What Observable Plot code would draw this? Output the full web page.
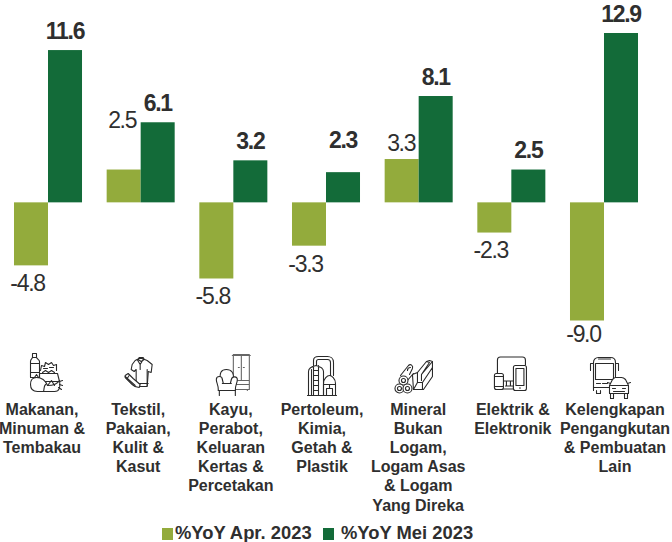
<!DOCTYPE html>
<html><head><meta charset="utf-8">
<script src="https://cdn.jsdelivr.net/npm/d3@7"></script>
<script src="https://cdn.jsdelivr.net/npm/@observablehq/plot@0.6"></script>
<style>
html,body{margin:0;padding:0;background:#fff;overflow:hidden}
#legend{position:relative;height:20px;font:bold 18.400px "Liberation Sans",Arial,sans-serif;color:#2f2f2f;line-height:18px;white-space:nowrap}
#legend i{position:absolute;top:6px;width:10.500px;height:11.500px}
#legend span{position:absolute;top:2px}
.val text{letter-spacing:-1.300px}
</style></head><body>
<div id="chart"></div>
<div id="legend"></div>
<script>
const categories = [
  "Makanan,\nMinuman &\nTembakau",
  "Tekstil,\nPakaian,\nKulit &\nKasut",
  "Kayu,\nPerabot,\nKeluaran\nKertas &\nPercetakan",
  "Pertoleum,\nKimia,\nGetah &\nPlastik",
  "Mineral\nBukan\nLogam,\nLogam Asas\n& Logam\nYang Direka",
  "Elektrik &\nElektronik",
  "Kelengkapan\nPengangkutan\n& Pembuatan\nLain"
];
const seriesNames = ["%YoY Apr. 2023", "%YoY Mei 2023"];
const apr2023 = [-4.8, 2.5, -5.8, -3.3, 3.3, -2.3, -9.0];
const mei2023 = [11.6, 6.1, 3.2, 2.3, 8.1, 2.5, 12.9];
const seriesColors = ["#93AB3C", "#136B39"];

const iconArt = [
  // food and drink
  `<path d="M9 5h4v4H9zM9 9c-1 2-2 2-2 4v16h9V13c0-2-2-2-3-4M7 15h9M7 24h9"/>
   <path d="M17 22l1-5 3 1 1-4 3 2 3-2 2 3 3-1v6M20 20h4M26 19h4M19 24l3-2 3 2 3-2 3 2"/>
   <path d="M16 25h18l2 8H16z"/>
   <path fill="#fff" d="M13 29c-4 0-6 3-6 7 0 5 3 7 7 7h17c5 0 6-4 5-11-3 5-9 5-12 5-2-5-6-8-11-8z"/>
   <path d="M11 29l2-3 2 3M24 37l4-5 3 5M36 33l3-1M36 36l3 1M35 39l3 2M20 43c1-3 0-5 2-7"/>`,
  // clothing
  `<path d="M18 11l4-2h3l5 2 5 4-1 8-3-1v2l-1 13H19V20l-2 2-3-2 1-5z"/>
   <path d="M20 10l3 5 3-5M23 15v5M22 8h4l1 2-3 2-3-2zM19 34h12M30 20v16"/>
   <path fill="#fff" d="M11 24l5 5 7 6-1 3c-3 0-5-1-7-3l-7-7v-2z"/><path d="M8 27l10 9M12 26l-2 3"/>`,
  // furniture
  `<path stroke="#666" d="M22 3h16v35H22zM21 4h18M30 3v26M22 29h16M22 33h16M27 16h1M32 16h1M24 38v1M36 38v1"/>
   <path fill="#fff" d="M9 29c-1-8 1-11 6-11s8 3 7 11"/>
   <path fill="#fff" d="M5 28c0-4 6-4 6 0l1 4h7l1-4c1-4 6-3 6 0 0 4-2 4-2 11H7c0-7-2-7-2-11z"/>
   <path d="M11 32h9M8 39v5M24 39v5M7 39h17"/>`,
  // petroleum and chemical
  `<path d="M7 44h29"/>
   <path d="M8 44V20c0-3 3-5 7.500-6 4 1 7.500 3 7.500 6v24M11 18v26M13 14v30M18 14v30M13 19h5M13 24h5M13 29h5M13 34h5M13 39h5"/>
   <path d="M13 14V9c0-3 3-4 5-4h9c3 0 6 2 6 6v13M16 14V10c0-1 1-2 2-2h9c2 0 3 1 3 3v13"/>
   <path d="M23 44V32c0-5 4-8 6-8s6 3 6 8v12M23 33h12M26 44v-7h6v7M29 33v4"/>`,
  // minerals and metal
  `<path d="M8 22L16 12c2-2 5 0 4 3l-3 6M14 28l7-8"/><path d="M18 14c-2 0-3 1-3 3"/>
   <circle fill="#fff" cx="11" cy="27" r="4.500"/><circle cx="11" cy="27" r="2"/>
   <circle fill="#fff" cx="7" cy="35" r="4.500"/><circle cx="7" cy="35" r="2"/>
   <circle fill="#fff" cx="15" cy="35" r="4.500"/><circle cx="15" cy="35" r="2"/>
   <path fill="#fff" d="M20 21l5-2v10h5l10-15v9L31 36H21z"/>
   <path d="M25 19l9-11 3 1-8 12v6M29 21l11-13v6M34 8l3-1 3 1M21 36l4-7M30 29v7"/>`,
  // electronics
  `<path d="M9 23V10c0-2 1-3 3-3h22c2 0 3 1 3 3v5"/>
   <rect x="6" y="23.500" width="9" height="16" rx="2"/><path d="M6 26.500h9M6 36.500h9"/>
   <path d="M15 31h10M18 31v5M22 31v5M15 39h10v-3H17"/>
   <rect x="25" y="15.500" width="13" height="25" rx="2"/><path d="M27.500 18.500h8v17h-8zM31 38h1"/>`,
  // transport
  `<path d="M6 37V9c0-3 2-5 5-5h12c3 0 5 2 5 5v14M11 5.500h12M8 10h18v16H8z"/>
   <path d="M6 10H3v7M28 10h3v7M6 34h16M9 30h4M15 30h5M9 37v3h4v-3"/>
   <path fill="#fff" d="M22 40V32l3-6c1-1 2-2 3-2h6c2 0 3 1 4 2l3 6v8z"/>
   <path d="M23 32h17M25 35h3M35 35h3M26 38h11M23 40v5h3v-5M37 40v5h3v-5M20 29l3 1M40 30l3-1"/>`
];
const toIcon = art => "data:image/svg+xml," + encodeURIComponent(
  `<svg xmlns="http://www.w3.org/2000/svg" width="44" height="48" viewBox="0 0 44 48"><g fill="none" stroke="#2a2a2a" stroke-width="1.100" stroke-linejoin="round" stroke-linecap="round">${art}</g></svg>`);

const rows = categories.flatMap((category, i) => [
  {category, series: seriesNames[0], value: apr2023[i]},
  {category, series: seriesNames[1], value: mei2023[i]}
]);
const label = d => d.value.toFixed(1);
const isApr = d => d.series === seriesNames[0];
const valueFont = {fontSize: 23, fontFamily: "Liberation Sans, Arial, sans-serif", fill: "#2f2f2f", className: "val", lineAnchor: "middle"};
const valueMark = (filter, dy, extra = {}) => Plot.text(rows.filter(filter), {
  fx: "category", x: "series", y: "value", text: label, dy, ...valueFont, ...extra});
const bold = {fontWeight: "bold"};

// per-column nudges of the caption and the pictogram from the column centre
const captionShift = [-6.500, -3, -3, -4.500, -1, 1, 10.500];
const iconShift = [-3, -2, -0.500, -4, -4.700, -1.400, 5];
const iconDrop = [51.500, 52.500, 54.500, 54.500, 56.500, 53, 56.500];

const chart = Plot.plot({
  width: 672, height: 522,
  marginLeft: 1.67, marginRight: 21.67, marginTop: 33, marginBottom: 201.5,
  style: {background: "#fff", overflow: "visible"},
  fx: {domain: categories, paddingInner: 0.266, paddingOuter: 0.133, round: false, axis: null, label: null},
  x: {domain: seriesNames, padding: 0, round: false, axis: null, label: null},
  y: {domain: [-9, 12.9], nice: false, axis: null, label: null},
  color: {domain: seriesNames, range: seriesColors},
  marks: [
    Plot.barY(rows, {fx: "category", x: "series", y: "value", fill: "series"}),
    valueMark(d => !isApr(d) && d.value !== 2.3, -19, {...bold, dx: -0.500}),
    valueMark(d => !isApr(d) && d.value === 2.3, -32, {...bold, dx: -0.500}),
    valueMark(d => isApr(d) && d.value === 3.3, -16, {dx: -1}),
    valueMark(d => isApr(d) && d.value === 2.5, -49, {dx: -2}),
    valueMark(d => isApr(d) && d.value < 0 && d.value > -9, 18, {dx: -4}),
    valueMark(d => isApr(d) && d.value === -9, 14, {dx: -4}),
    ...categories.map((c, i) => Plot.text([c], {
      fx: d => d, text: d => d, frameAnchor: "bottom", lineAnchor: "top", dx: captionShift[i], dy: 80,
      lineHeight: 1.2, fontSize: 16, fontWeight: "bold",
      fontFamily: "Liberation Sans, Arial, sans-serif", fill: "#2f2f2f"})),
    ...categories.map((c, i) => Plot.image([c], {
      fx: d => d, src: toIcon(iconArt[i]), width: 44, height: 48, frameAnchor: "bottom",
      dx: iconShift[i], dy: iconDrop[i]}))
  ]
});
document.getElementById("chart").appendChild(chart);
chart.style.display = "block";

const legend = d3.select("#legend");
[[162, 175], [323, 341]].forEach(([a, b], i) => {
  legend.append("i").style("left", a + "px").style("background", seriesColors[i]);
  legend.append("span").style("left", b + "px").text(seriesNames[i]);
});
</script>
</body></html>
